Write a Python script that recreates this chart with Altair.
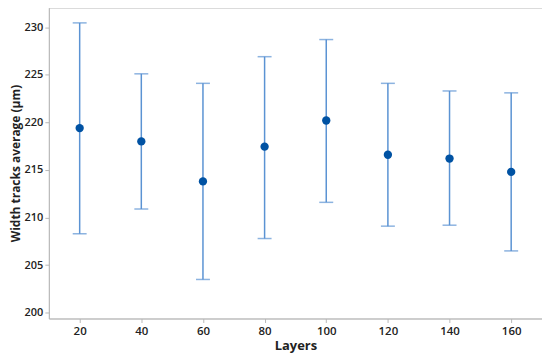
import altair as alt
import pandas as pd

layers = [20, 40, 60, 80, 100, 120, 140, 160]
means = [219.4, 218.0, 213.8, 217.45, 220.2, 216.6, 216.2, 214.8]
lowers = [208.3, 210.9, 203.5, 207.8, 211.6, 209.1, 209.2, 206.5]
uppers = [230.45, 225.1, 224.1, 226.9, 228.7, 224.1, 223.3, 223.1]

df = pd.DataFrame({"layers": layers, "mean": means, "lower": lowers, "upper": uppers})

FONT = "Open Sans"
BAR = "#5b93d3"
DOT = "#0052a3"

x = alt.X("layers:Q", title="Layers",
          scale=alt.Scale(domain=[10, 170], nice=False, zero=False),
          axis=alt.Axis(values=layers, grid=False, tickSize=4, labelPadding=3,
                        domainColor="#b8b8b8", tickColor="#b8b8b8",
                        labelFont=FONT, labelFontSize=11.5, labelFontWeight=600, labelColor="#222222",
                        titleFont=FONT, titleFontSize=13, titleFontWeight="bold", titleColor="#222222",
                        titlePadding=3))
yscale = alt.Scale(domain=[199.4, 232.05], nice=False, zero=False)
yaxis = alt.Axis(values=[200, 205, 210, 215, 220, 225, 230], grid=False, tickSize=4, labelPadding=2,
                 domainColor="#b8b8b8", tickColor="#b8b8b8",
                 labelFont=FONT, labelFontSize=11, labelFontWeight=600, labelColor="#222222",
                 titleFont=FONT, titleFontSize=12, titleFontWeight="bold", titleColor="#222222",
                 titleX=-38, titleBaseline="top", titleAngle=270)

base = alt.Chart(df)

rules = base.mark_rule(color=BAR, strokeWidth=1.5).encode(
    x=x,
    y=alt.Y("lower:Q", scale=yscale, axis=yaxis, title="Width tracks average (µm)"),
    y2="upper:Q",
)

caps = base.transform_fold(["lower", "upper"], as_=["end", "val"]).mark_tick(
    color=BAR, orient="horizontal", size=14, thickness=1.5
).encode(
    x=alt.X("layers:Q"),
    y=alt.Y("val:Q"),
)

dots = base.mark_point(filled=True, color=DOT, size=70, opacity=1).encode(
    x=alt.X("layers:Q"),
    y=alt.Y("mean:Q"),
)

chart = alt.layer(rules, caps, dots).properties(
    width=495, height=312,
    autosize=alt.AutoSizeParams(type="none"),
    padding={"left": 41, "top": -1, "right": 0, "bottom": 40},
).configure_view(stroke="#c8c8c8", strokeWidth=1)

chart.save("out.html", embed_options={"renderer": "svg", "actions": False})
